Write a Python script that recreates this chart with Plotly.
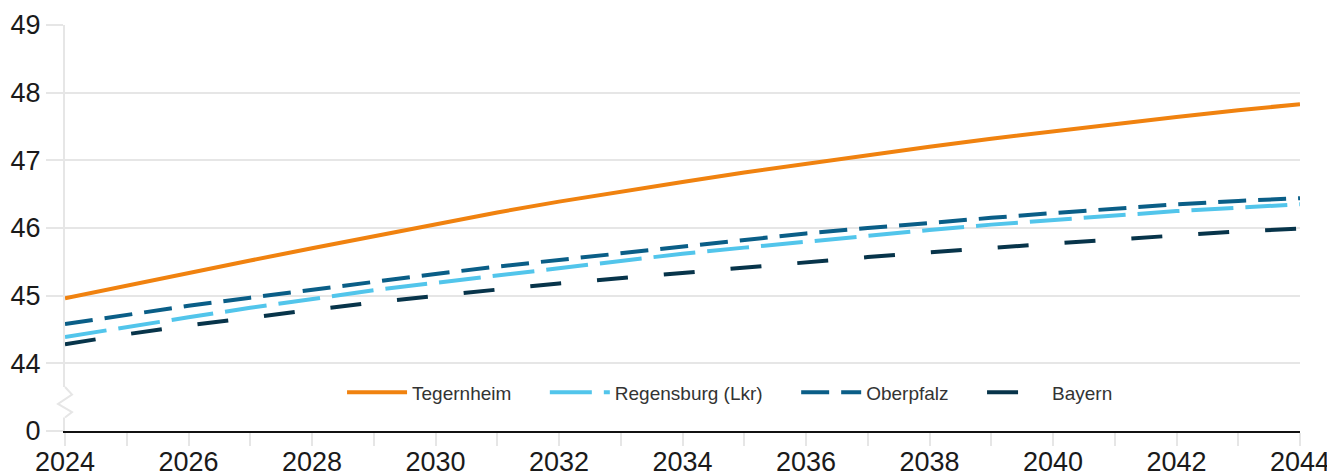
import plotly.graph_objects as go

years = list(range(2024, 2045))
tegernheim = [44.96, 45.15, 45.34, 45.52, 45.70, 45.88, 46.06, 46.23, 46.39, 46.54, 46.68,
              46.82, 46.95, 47.08, 47.20, 47.32, 47.43, 47.54, 47.64, 47.74, 47.83]
regensburg = [44.39, 44.54, 44.68, 44.82, 44.95, 45.08, 45.19, 45.30, 45.41, 45.52, 45.62,
              45.71, 45.80, 45.89, 45.97, 46.05, 46.12, 46.19, 46.25, 46.30, 46.35]
oberpfalz = [44.58, 44.72, 44.85, 44.97, 45.09, 45.21, 45.32, 45.43, 45.53, 45.63, 45.73,
             45.83, 45.92, 46.00, 46.08, 46.15, 46.22, 46.29, 46.35, 46.40, 46.44]
bayern = [44.28, 44.43, 44.56, 44.68, 44.79, 44.90, 45.00, 45.09, 45.18, 45.26, 45.34,
          45.42, 45.49, 45.57, 45.64, 45.71, 45.77, 45.83, 45.89, 45.95, 45.99]

series_names = ["Tegernheim", "Regensburg (Lkr)", "Oberpfalz", "Bayern"]
series_values = [tegernheim, regensburg, oberpfalz, bayern]
colors = ["#F0820F", "#52C5EB", "#0A5E87", "#07344A"]
dashes = ["solid", "42px,12px", "28px,12px", "31px,36px"]

y_tickvals = [43, 44, 45, 46, 47, 48, 49]
y_ticktext = ["0", "44", "45", "46", "47", "48", "49"]
x_ticktext = [str(y) if (y - 2024) % 2 == 0 else "" for y in years]

pad = "\u2002\u2002\u2002"  # extra spacing between legend entries

fig = go.Figure()
for i, (name, vals, col, dash) in enumerate(zip(series_names, series_values, colors, dashes)):
    label = name + (pad if i < len(series_names) - 1 else "")
    fig.add_trace(go.Scatter(x=years, y=vals, mode="lines", name=label,
                             line=dict(color=col, width=4, dash=dash)))

grid = "#e6e6e6"
# page body has an 8px margin, so the figure is sized/offset to compensate
fig.update_layout(
    width=1327, height=468,
    margin=dict(l=57, r=35, t=17, b=45),
    plot_bgcolor="white", paper_bgcolor="white",
    font=dict(family="Liberation Sans, Arial, sans-serif", color="#1a1a1a"),
    showlegend=True,
    legend=dict(orientation="h", x=0.5385, y=0.095, xanchor="center", yanchor="middle",
                font=dict(size=19, color="#333333"), bgcolor="rgba(0,0,0,0)",
                itemwidth=60, tracegroupgap=0),
    xaxis=dict(range=[2024, 2044], tickvals=years, ticktext=x_ticktext,
               showgrid=False, zeroline=False, automargin=False,
               showline=True, linecolor="#111111", linewidth=2,
               ticks="outside", ticklen=13, tickcolor=grid, tickwidth=2,
               ticklabelstandoff=-7,
               tickfont=dict(size=27, color="#1a1a1a")),
    yaxis=dict(range=[43, 49], tickvals=y_tickvals, ticktext=y_ticktext,
               showgrid=True, gridcolor=grid, gridwidth=2, zeroline=False, automargin=False,
               showline=True, linecolor=grid, linewidth=2,
               ticks="outside", ticklen=17, tickcolor=grid, tickwidth=2,
               tickfont=dict(size=27, color="#1a1a1a")),
)

# axis break marker on the y axis (pixel offsets from the left edge of the plot)
fig.add_shape(type="rect", xref="paper", xsizemode="pixel", xanchor=0, yref="y",
              x0=-3, x1=3, y0=43.2, y1=43.65, fillcolor="white", line=dict(width=0), layer="above")
fig.add_shape(type="path", xref="paper", xsizemode="pixel", xanchor=0, yref="y",
              path="M 0 43.65 L 7 43.54 L -7 43.4 L 7 43.28 L 0 43.2",
              line=dict(color=grid, width=2), layer="above")

fig.write_html("out.html")
